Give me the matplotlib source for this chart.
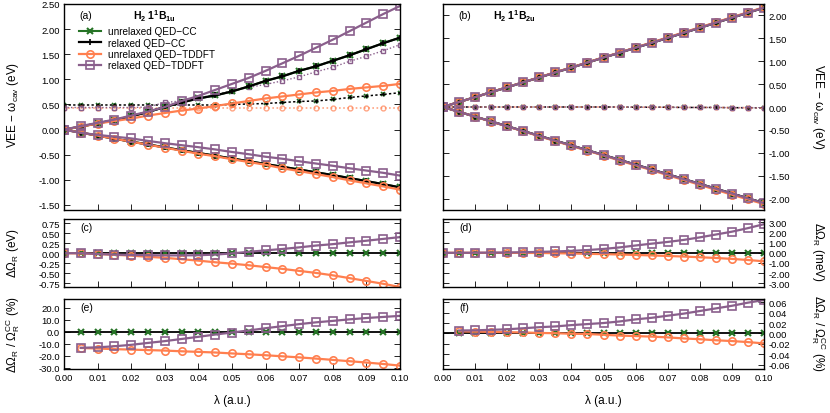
import numpy as np
import matplotlib
matplotlib.use("Agg")
import matplotlib.pyplot as plt

plt.rcParams['font.family'] = ['Liberation Sans', 'DejaVu Sans']
plt.rcParams['mathtext.fontset'] = 'custom'
plt.rcParams['mathtext.rm'] = 'Liberation Sans'
plt.rcParams['mathtext.it'] = 'Liberation Sans:italic'
plt.rcParams['mathtext.bf'] = 'Liberation Sans:bold'

# coupling strength (a.u.)
lam = [0.000, 0.005, 0.010, 0.015, 0.020, 0.025, 0.030, 0.035, 0.040, 0.045, 0.050,
       0.055, 0.060, 0.065, 0.070, 0.075, 0.080, 0.085, 0.090, 0.095, 0.100]
lam_ratio = lam[1:]

# --- panel (a): H2 1^1B1u, VEE - w_cav (eV)
a_cc_up = [0.00, 0.06, 0.125, 0.19, 0.265, 0.35, 0.45, 0.54, 0.62, 0.68, 0.76,
           0.86, 0.97, 1.06, 1.17, 1.26, 1.37, 1.48, 1.60, 1.72, 1.83]
a_cc_lo = [0.00, -0.06, -0.12, -0.18, -0.24, -0.295, -0.355, -0.41, -0.465, -0.52, -0.575,
           -0.63, -0.685, -0.74, -0.795, -0.85, -0.905, -0.965, -1.025, -1.085, -1.15]
a_cc_dot = [0.49, 0.49, 0.49, 0.49, 0.49, 0.49, 0.49, 0.49, 0.49, 0.49, 0.50,
            0.51, 0.52, 0.54, 0.56, 0.57, 0.60, 0.64, 0.67, 0.70, 0.735]
a_unrel_up = [0.00, 0.06, 0.12, 0.17, 0.22, 0.28, 0.33, 0.38, 0.42, 0.47, 0.52,
              0.57, 0.62, 0.66, 0.70, 0.74, 0.77, 0.81, 0.84, 0.87, 0.91]
a_unrel_lo = [0.00, -0.06, -0.12, -0.18, -0.24, -0.30, -0.36, -0.42, -0.48, -0.53, -0.59,
              -0.645, -0.70, -0.77, -0.825, -0.885, -0.945, -1.01, -1.07, -1.13, -1.195]
a_unrel_dot = [0.43, 0.43, 0.43, 0.43, 0.43, 0.43, 0.43, 0.43, 0.43, 0.43, 0.43,
               0.43, 0.43, 0.43, 0.43, 0.43, 0.43, 0.43, 0.43, 0.43, 0.43]
a_rel_up = [0.00, 0.07, 0.135, 0.20, 0.28, 0.36, 0.45, 0.57, 0.67, 0.79, 0.91,
            1.03, 1.17, 1.32, 1.47, 1.63, 1.79, 1.96, 2.13, 2.30, 2.46]
a_rel_lo = [0.00, -0.065, -0.105, -0.14, -0.175, -0.225, -0.27, -0.31, -0.35, -0.395, -0.445,
            -0.49, -0.54, -0.58, -0.63, -0.675, -0.72, -0.77, -0.815, -0.86, -0.915]
a_rel_dot = [0.44, 0.44, 0.44, 0.44, 0.44, 0.45, 0.54, 0.57, 0.63, 0.70, 0.77,
             0.84, 0.90, 0.97, 1.05, 1.15, 1.24, 1.36, 1.46, 1.57, 1.69]

# --- panel (b): H2 1^1B2u
b_cc_up = [0.00, 0.11, 0.215, 0.325, 0.43, 0.54, 0.645, 0.755, 0.86, 0.97, 1.08,
           1.185, 1.295, 1.40, 1.51, 1.62, 1.73, 1.84, 1.95, 2.06, 2.17]
b_cc_lo = [0.00, -0.105, -0.21, -0.315, -0.42, -0.525, -0.63, -0.735, -0.84, -0.945, -1.05,
           -1.155, -1.26, -1.365, -1.47, -1.575, -1.68, -1.785, -1.89, -1.995, -2.10]
b_tddft_up = [0.00, 0.11, 0.215, 0.325, 0.435, 0.54, 0.65, 0.76, 0.865, 0.975, 1.085,
              1.19, 1.30, 1.41, 1.52, 1.63, 1.74, 1.85, 1.96, 2.07, 2.18]
b_tddft_lo = [0.00, -0.105, -0.21, -0.32, -0.425, -0.53, -0.64, -0.745, -0.85, -0.955, -1.06,
              -1.17, -1.275, -1.38, -1.49, -1.595, -1.70, -1.81, -1.915, -2.02, -2.12]
b_dot = [0.00, 0.00, 0.00, 0.00, 0.00, 0.00, 0.00, 0.00, 0.00, 0.00, 0.00,
         0.00, -0.005, -0.005, -0.005, -0.01, -0.01, -0.01, -0.015, -0.015, -0.02]

# --- panel (c): Delta Omega_R (eV), 1B1u
c_cc = [0.0, 0.0, 0.0, 0.0, 0.0, 0.0, 0.0, 0.0, 0.0, 0.0, 0.0,
        0.0, 0.0, 0.0, 0.0, 0.0, 0.0, 0.0, 0.0, 0.0, 0.0]
c_unrel = [0.00, -0.005, -0.02, -0.04, -0.06, -0.09, -0.115, -0.15, -0.185, -0.225, -0.26,
           -0.30, -0.345, -0.39, -0.44, -0.49, -0.55, -0.62, -0.69, -0.76, -0.84]
c_rel = [0.00, 0.00, -0.02, -0.035, -0.045, -0.05, -0.055, -0.055, -0.05, -0.035, -0.005,
         0.035, 0.07, 0.105, 0.145, 0.19, 0.225, 0.27, 0.31, 0.355, 0.40]

# --- panel (d): Delta Omega_R (meV), 1B2u
d_cc = [0.0, 0.0, 0.0, 0.0, 0.0, 0.0, 0.0, 0.0, 0.0, 0.0, 0.0,
        0.0, 0.0, 0.0, 0.0, 0.0, 0.0, 0.0, 0.0, 0.0, 0.0]
d_unrel = [0.00, 0.00, 0.00, 0.00, 0.00, -0.01, -0.02, -0.04, -0.07, -0.10, -0.13,
           -0.17, -0.21, -0.26, -0.31, -0.37, -0.44, -0.51, -0.60, -0.71, -0.84]
d_rel = [0.00, 0.00, 0.01, 0.02, 0.03, 0.06, 0.09, 0.13, 0.19, 0.27, 0.38,
         0.53, 0.72, 0.90, 1.07, 1.27, 1.52, 1.80, 2.08, 2.43, 2.82]

# --- panel (e): Delta Omega_R / Omega_R^CC (%), 1B1u
e_cc = [0.0, 0.0, 0.0, 0.0, 0.0, 0.0, 0.0, 0.0, 0.0, 0.0,
        0.0, 0.0, 0.0, 0.0, 0.0, 0.0, 0.0, 0.0, 0.0, 0.0]
e_unrel = [-13.4, -13.9, -14.4, -14.8, -15.2, -15.6, -16.2, -16.7, -17.2, -18.0,
           -18.7, -19.5, -20.4, -21.3, -22.3, -23.4, -24.5, -25.6, -26.8, -28.2]
e_rel = [-13.3, -12.9, -12.0, -10.8, -9.2, -7.7, -5.9, -4.1, -2.2, -0.5,
         1.2, 3.1, 4.8, 6.5, 8.0, 9.2, 10.5, 11.6, 12.5, 13.4]

# --- panel (f): Delta Omega_R / Omega_R^CC (%), 1B2u
f_cc = e_cc
f_unrel = [0.004, 0.0035, 0.003, 0.0025, 0.002, 0.001, 0.0005, -0.0005, -0.001, -0.0025,
           -0.004, -0.005, -0.006, -0.0075, -0.0095, -0.011, -0.013, -0.0145, -0.0165, -0.019]
f_rel = [0.0057, 0.006, 0.007, 0.008, 0.010, 0.012, 0.0135, 0.016, 0.018, 0.020,
         0.023, 0.027, 0.030, 0.034, 0.038, 0.043, 0.048, 0.053, 0.059, 0.064]

GREEN = "#267326"
ORANGE = "#ff7f4f"
PURPLE = "#8a5f8c"

st_green = dict(color=GREEN, marker='x', ms=5, mew=1.5, lw=1.5)
st_black = dict(color='black', marker='+', ms=5, mew=1.2, lw=1.6)
st_orange = dict(color=ORANGE, marker='o', ms=5.3, mfc='none', mew=1.2, lw=1.6)
st_purple = dict(color=PURPLE, marker='s', ms=5.3, mfc='none', mew=1.2, lw=1.6)

dot_green = dict(color=GREEN, marker='x', ms=3.5, mew=1.2, lw=0)
dot_black = dict(color='black', marker='+', ms=3.5, mew=1.0, lw=1.1, ls=(0, (1.5, 1.5)))
dot_orange = dict(color=ORANGE, marker='o', ms=3.5, mfc='none', mew=1.0, lw=1.2,
                  ls=(0, (1, 1.5)), alpha=0.7)
dot_purple = dict(color=PURPLE, marker='s', ms=3.5, mfc='none', mew=1.0, lw=1.0,
                  ls=(0, (1, 1.5)))

fig = plt.figure(figsize=(8.3, 4.14), dpi=100)

W, H = 830.0, 414.0
def axes_px(x0, x1, y0, y1):
    return fig.add_axes([x0 / W, 1 - y1 / H, (x1 - x0) / W, (y1 - y0) / H])

ax_a = axes_px(64, 400, 5, 211)
ax_b = axes_px(443, 764, 5, 211)
ax_c = axes_px(64, 400, 220, 288)
ax_d = axes_px(443, 764, 220, 288)
ax_e = axes_px(64, 400, 300, 370)
ax_f = axes_px(443, 764, 300, 370)

# panel (a)
ax_a.plot(lam, a_cc_dot, **dot_green)
ax_a.plot(lam, a_cc_dot, **dot_black)
ax_a.plot(lam, a_unrel_dot, **dot_orange)
ax_a.plot(lam, a_rel_dot, **dot_purple)
ax_a.plot(lam, a_cc_up, **st_green)
ax_a.plot(lam, a_cc_lo, **st_green)
ax_a.plot(lam, a_cc_up, **st_black)
ax_a.plot(lam, a_cc_lo, **st_black)
ax_a.plot(lam, a_unrel_up, **st_orange)
ax_a.plot(lam, a_unrel_lo, **st_orange)
ax_a.plot(lam, a_rel_up, **st_purple)
ax_a.plot(lam, a_rel_lo, **st_purple)

# panel (b)
ax_b.plot(lam, b_dot, **dot_green)
ax_b.plot(lam, b_dot, **dot_black)
ax_b.plot(lam, b_dot, **dot_orange)
ax_b.plot(lam, b_dot, **dot_purple)
ax_b.plot(lam, b_cc_up, **st_green)
ax_b.plot(lam, b_cc_lo, **st_green)
ax_b.plot(lam, b_cc_up, **st_black)
ax_b.plot(lam, b_cc_lo, **st_black)
ax_b.plot(lam, b_tddft_up, **st_orange)
ax_b.plot(lam, b_tddft_lo, **st_orange)
ax_b.plot(lam, b_cc_up, **st_purple)
ax_b.plot(lam, b_cc_lo, **st_purple)

# difference panels: black reference line at zero, green markers on it
def diff_panel(ax, x, cc, unrel, rel):
    ax.plot(lam, c_cc, color='black', lw=1.3)
    ax.plot(x, cc, color=GREEN, marker='x', ms=5, mew=1.5, lw=0)
    ax.plot(x, unrel, **st_orange)
    ax.plot(x, rel, **st_purple)

diff_panel(ax_c, lam, c_cc, c_unrel, c_rel)
diff_panel(ax_d, lam, d_cc, d_unrel, d_rel)
diff_panel(ax_e, lam_ratio, e_cc, e_unrel, e_rel)
diff_panel(ax_f, lam_ratio, f_cc, f_unrel, f_rel)

# axes limits / ticks
xt = np.arange(0, 0.1001, 0.01)
for ax in [ax_a, ax_b, ax_c, ax_d, ax_e, ax_f]:
    ax.set_xlim(0, 0.1)
    ax.set_xticks(xt)
    ax.tick_params(direction='in', length=4, width=0.6, labelsize=6.8,
                   left=True, right=True, top=False, bottom=True, pad=3)
    for s in ax.spines.values():
        s.set_linewidth(1.0)
    ax.xaxis.set_major_formatter(matplotlib.ticker.FormatStrFormatter('%.2f'))

for ax in [ax_a, ax_b, ax_c, ax_d]:
    ax.tick_params(labelbottom=False)
for ax in [ax_b, ax_d, ax_f]:
    ax.tick_params(labelleft=False, labelright=True)

ax_a.set_ylim(-1.6, 2.5)
ax_a.set_yticks(np.arange(-1.5, 2.51, 0.5))
ax_b.set_ylim(-2.25, 2.25)
ax_b.set_yticks(np.arange(-2.0, 2.01, 0.5))
ax_c.set_ylim(-0.84, 0.85)
ax_c.set_yticks(np.arange(-0.75, 0.76, 0.25))
ax_d.set_ylim(-3.37, 3.33)
ax_d.set_yticks(np.arange(-3, 3.01, 1))
ax_e.set_ylim(-31, 27.5)
ax_e.set_yticks(np.arange(-30, 20.1, 10))
ax_f.set_ylim(-0.068, 0.066)
ax_f.set_yticks(np.arange(-0.06, 0.0601, 0.02))

fmt2 = matplotlib.ticker.FormatStrFormatter('%.2f')
for ax in [ax_a, ax_b, ax_c, ax_d, ax_f]:
    ax.yaxis.set_major_formatter(fmt2)
ax_e.yaxis.set_major_formatter(matplotlib.ticker.FormatStrFormatter('%.1f'))

# panel labels and titles
fs_lab = 8.5
ax_a.text(0.047, 0.947, "(a)", transform=ax_a.transAxes, fontsize=7.5, va='center')
ax_a.text(0.27, 0.947, r"H$_\mathbf{2}$ 1$^\mathbf{1}$B$_\mathbf{1u}$", transform=ax_a.transAxes,
          fontsize=7.5, fontweight='bold', va='center', ha='center')
ax_b.text(0.047, 0.947, "(b)", transform=ax_b.transAxes, fontsize=7.5, va='center')
ax_b.text(0.155, 0.947, r"H$_\mathbf{2}$ 1$^\mathbf{1}$B$_\mathbf{2u}$", transform=ax_b.transAxes,
          fontsize=7.5, fontweight='bold', va='center')
for ax, lab in [(ax_c, "(c)"), (ax_d, "(d)"), (ax_e, "(e)"), (ax_f, "(f)")]:
    ax.text(0.05, 0.88, lab, transform=ax.transAxes, fontsize=7.5, va='center')

# legend
handles = [
    ax_a.plot([], [], **st_green)[0],
    ax_a.plot([], [], **st_black)[0],
    ax_a.plot([], [], **st_orange)[0],
    ax_a.plot([], [], **st_purple)[0],
]
ax_a.legend(handles, ["unrelaxed QED\u2212CC", "relaxed QED\u2212CC",
                      "unrelaxed QED\u2212TDDFT", "relaxed QED\u2212TDDFT"],
            loc='upper left', bbox_to_anchor=(0.025, 0.925), frameon=False,
            fontsize=7.2, handlelength=2.2, handletextpad=0.7, labelspacing=0.13,
            borderpad=0.2)

# axis labels
fig.text(13 / W, 1 - 105 / H, "VEE \u2212 \u03c9$_\\mathrm{cav}$ (eV)", rotation=90,
         ha='center', va='center', fontsize=fs_lab)
fig.text(13 / W, 1 - 253 / H, "\u0394\u03a9$_\\mathrm{R}$ (eV)", rotation=90,
         ha='center', va='center', fontsize=fs_lab)
fig.text(13 / W, 1 - 335 / H, "\u0394\u03a9$_\\mathrm{R}$ / \u03a9$_\\mathrm{R}^\\mathrm{CC}$ (%)",
         rotation=90, ha='center', va='center', fontsize=fs_lab)
fig.text(818 / W, 1 - 107 / H, "VEE \u2212 \u03c9$_\\mathrm{cav}$ (eV)", rotation=270,
         ha='center', va='center', fontsize=fs_lab)
fig.text(818 / W, 1 - 252 / H, "\u0394\u03a9$_\\mathrm{R}$ (meV)", rotation=270,
         ha='center', va='center', fontsize=fs_lab)
fig.text(818 / W, 1 - 333 / H, "\u0394\u03a9$_\\mathrm{R}$ / \u03a9$_\\mathrm{R}^\\mathrm{CC}$ (%)",
         rotation=270, ha='center', va='center', fontsize=fs_lab)
fig.text(232 / W, 1 - 401 / H, "\u03bb (a.u.)", ha='center', va='center', fontsize=fs_lab)
fig.text(603 / W, 1 - 401 / H, "\u03bb (a.u.)", ha='center', va='center', fontsize=fs_lab)

fig.savefig("out.png", dpi=100)
